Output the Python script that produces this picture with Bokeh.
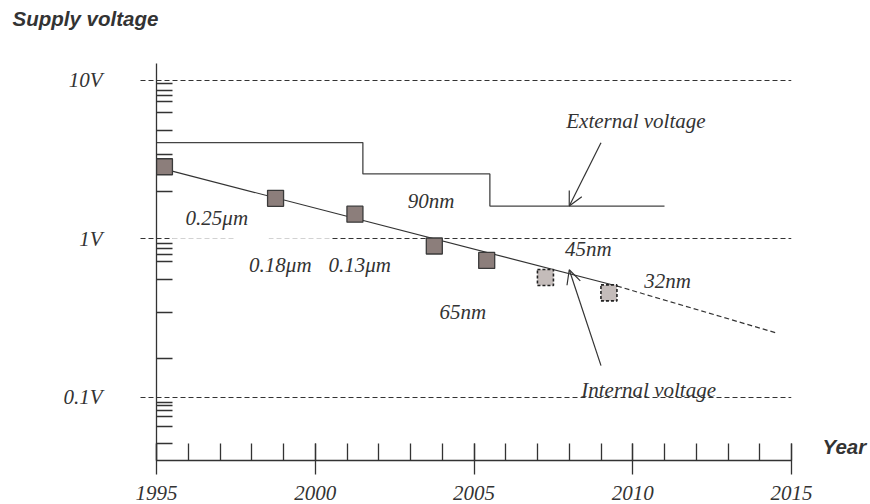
from bokeh.plotting import figure
from bokeh.models import FixedTicker, Label, Arrow, OpenHead, LogAxis, BoxAnnotation
from bokeh.embed import file_html
from bokeh.resources import INLINE

# ---------------- data ----------------
node_years = [1995.25, 1998.75, 2001.25, 2003.75, 2005.4]
node_vdd = [2.85, 1.80, 1.43, 0.90, 0.73]
future_years = [2007.25, 2009.25]
future_vdd = [0.57, 0.455]

trend_years = [1995.25, 2009.5]
trend_vdd = [2.755, 0.503]
proj_years = [2009.5, 2014.5]
proj_vdd = [0.503, 0.255]

ext_years = [1995.0, 2001.5, 2005.5, 2011.0]
ext_vdd = [4.05, 2.57, 1.61, 1.61]

node_names = ["0.25\u03bcm", "0.18\u03bcm", "0.13\u03bcm", "90nm", "65nm", "45nm", "32nm"]
name_years = [1996.9, 1998.9, 2001.4, 2003.65, 2004.65, 2008.6, 2011.1]
name_vdd = [1.357, 0.678, 0.678, 1.728, 0.344, 0.865, 0.545]

year_ticks = [1995, 2000, 2005, 2010, 2015]
year_minor = list(range(1995, 2016))
volt_ticks = [0.1, 1, 10]
volt_labels = ["0.1V", "1V", "10V"]
volt_minor = [0.051, 0.065, 0.0755, 0.082, 0.089, 0.093,
              0.176, 0.34, 0.55, 0.72, 0.80, 0.87, 0.94,
              2.0, 3.4, 4.8, 6.3, 7.4, 8.0, 8.7, 9.6]
x_caption_at = 0.0487   # height of the "Year" caption on the voltage scale

SERIF = "Liberation Serif"
SANS = "Liberation Sans"
INK = "#333333"
SERIF_SIZE = "21px"
SANS_SIZE = "20.5px"

p = figure(width=870, height=504, x_range=(1995, 2015), y_range=(0.03976, 12.8),
           y_axis_type="log", output_backend="svg", toolbar_location=None,
           title="Supply voltage\n ",
           min_border_left=156, min_border_right=79, min_border_top=63,
           min_border_bottom=44)
p.outline_line_color = None
p.background_fill_color = "white"
p.border_fill_color = "white"

# title (second, blank line lifts it towards the top edge)
p.title.align = "left"
p.title.vertical_align = "bottom"
p.title.offset = -144
p.title.standoff = 7
p.title.text_line_height = 1.32
p.title.text_font = SANS
p.title.text_font_style = "bold italic"
p.title.text_font_size = SANS_SIZE
p.title.text_color = INK

# grid: only the dashed decade lines
p.xgrid.visible = False
p.ygrid.ticker = FixedTicker(ticks=volt_ticks)
p.ygrid.grid_line_color = INK
p.ygrid.grid_line_dash = "5 3"
p.ygrid.grid_line_width = 1

# the 1V line is faded behind the first node labels in the original
p.add_layout(BoxAnnotation(left=1995.5, right=2000.5, bottom=0.985, top=1.015,
                           fill_color="white", fill_alpha=0.78, line_alpha=0))
p.add_layout(BoxAnnotation(left=1997.48, right=1998.53, bottom=0.985, top=1.015,
                           fill_color="white", fill_alpha=1.0, line_alpha=0))

# x axis
xa = p.xaxis[0]
xa.ticker = FixedTicker(ticks=year_ticks, minor_ticks=year_minor)
xa.axis_line_color = INK
xa.axis_line_width = 1.3
xa.major_tick_line_color = INK
xa.major_tick_line_width = 1.3
xa.minor_tick_line_color = INK
xa.minor_tick_line_width = 1.3
xa.major_tick_in = 17
xa.major_tick_out = 14
xa.minor_tick_in = 17
xa.minor_tick_out = 0
xa.major_label_text_font = SERIF
xa.major_label_text_font_style = "italic"
xa.major_label_text_font_size = SERIF_SIZE
xa.major_label_text_color = INK
xa.major_label_standoff = 11

# y axis
ya = p.yaxis[0]
ya.ticker = FixedTicker(ticks=volt_ticks, minor_ticks=volt_minor)
ya.major_label_overrides = {t: s for t, s in zip(volt_ticks, volt_labels)}
ya.axis_line_color = INK
ya.axis_line_width = 1.3
ya.major_tick_line_color = INK
ya.major_tick_line_dash = "5 3"
ya.major_tick_line_width = 1
ya.major_tick_in = 0
ya.major_tick_out = 16
ya.minor_tick_line_color = INK
ya.minor_tick_line_width = 1.3
ya.minor_tick_in = 16
ya.minor_tick_out = 0
ya.major_label_text_font = SERIF
ya.major_label_text_font_style = "italic"
ya.major_label_text_font_size = SERIF_SIZE
ya.major_label_text_color = INK
ya.major_label_standoff = 38

# "Year" caption placed as the single label of a right-hand axis
ra = LogAxis(ticker=FixedTicker(ticks=[x_caption_at]),
             major_label_overrides={x_caption_at: "Year"})
ra.axis_line_color = None
ra.major_tick_line_color = None
ra.minor_tick_line_color = None
ra.major_tick_out = 0
ra.major_tick_in = 0
ra.major_label_standoff = 31
ra.major_label_text_font = SANS
ra.major_label_text_font_style = "bold italic"
ra.major_label_text_font_size = SANS_SIZE
ra.major_label_text_color = INK
p.add_layout(ra, "right")

# external supply voltage (step line)
p.step(ext_years, ext_vdd, mode="after", line_color="#444444", line_width=1.3)

# internal voltage trend line
p.line(trend_years, trend_vdd, line_color=INK, line_width=1.2)
p.line(proj_years, proj_vdd, line_color=INK, line_width=1.2, line_dash="5 3")

# technology nodes
p.scatter(node_years, node_vdd, marker="square", size=16,
          fill_color="#8c7e7b", line_color="#3a3a3a", line_width=1.3)
p.scatter(future_years, future_vdd, marker="square", size=16,
          fill_color="#c4bcba", line_color="#222222", line_width=1.6, line_dash="3 2")

# node names
for name, xx, yy in zip(node_names, name_years, name_vdd):
    p.add_layout(Label(x=xx, y=yy, text=name, text_align="center",
                       text_baseline="alphabetic", text_font=SERIF,
                       text_font_style="italic", text_font_size=SERIF_SIZE,
                       text_color=INK))

# arrows and their captions
p.add_layout(Arrow(end=OpenHead(size=14, line_color=INK, line_width=1.2),
                   x_start=2009.0, y_start=4.04, x_end=2008.0, y_end=1.61,
                   line_color=INK, line_width=1.2))
p.add_layout(Arrow(end=OpenHead(size=14, line_color=INK, line_width=1.2),
                   x_start=2009.0, y_start=0.158, x_end=2008.0, y_end=0.637,
                   line_color=INK, line_width=1.2))
p.add_layout(Label(x=2010.1, y=5.53, text="External voltage", text_align="center",
                   text_baseline="alphabetic", text_font=SERIF,
                   text_font_style="italic", text_font_size=SERIF_SIZE, text_color=INK))
p.add_layout(Label(x=2010.5, y=0.111, text="Internal voltage", text_align="center",
                   text_baseline="alphabetic", text_font=SERIF,
                   text_font_style="italic", text_font_size=SERIF_SIZE, text_color=INK))

open("out.html", "w").write(file_html(p, INLINE))
